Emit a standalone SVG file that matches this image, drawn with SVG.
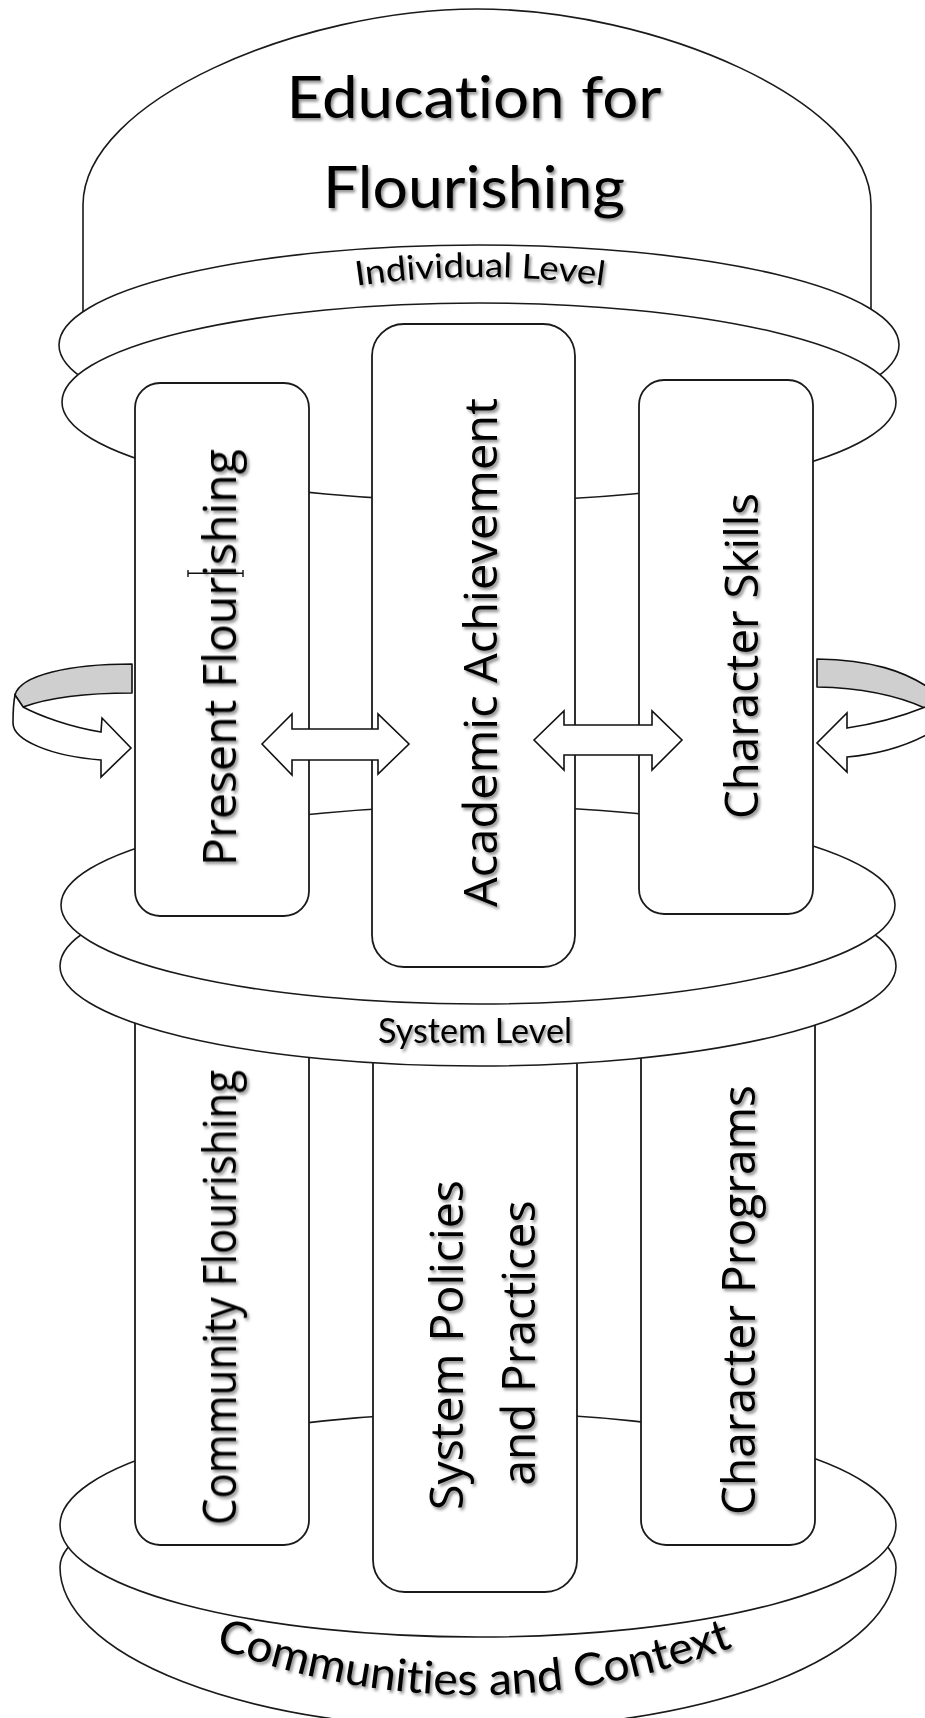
<svg xmlns="http://www.w3.org/2000/svg" width="925" height="1718" viewBox="0 0 925 1718">
<defs>
<style>
.sh{fill:#fff;stroke:#1a1a1a;stroke-width:1.6}
.box{fill:#fff;stroke:#1a1a1a;stroke-width:1.8}
.arr{fill:#fff;stroke:#111;stroke-width:1.6;stroke-linejoin:miter}
.grey{fill:#cfcfcf;stroke:#111;stroke-width:1.6;stroke-linejoin:round}
text{font-variant-ligatures:none}
.cal{font-family:Lato,"Open Sans","Liberation Sans",sans-serif;fill:#000}
.seg{font-family:"Open Sans","Noto Sans","DejaVu Sans",sans-serif;fill:#000;font-size:46px}
</style>
<filter id="ts" x="-10%" y="-20%" width="125%" height="150%">
<feDropShadow dx="2" dy="2.5" stdDeviation="1.6" flood-color="#000" flood-opacity="0.45"/>
</filter>
<path id="ilPath" d="M 342 288 Q 480 266 618 288"/>
<path id="ccPath" d="M 196 1640 Q 474 1750 752 1640"/>
</defs>
<rect width="925" height="1718" fill="#fff"/>

<g id="dome">
<path class="sh" d="M 83 350 L 83 205 C 83 100, 302 9, 477 9 C 652 9, 871 100, 871 205 L 871 350 Z"/>
</g>
<g id="individual-band">
<ellipse class="sh" cx="479" cy="345" rx="420" ry="100"/>
</g>
<g id="individual-disk">
<ellipse class="sh" cx="479" cy="402" rx="417" ry="99"/>
</g>
<g id="base-disk">
<path class="sh" d="M 60 1567 A 418 162 0 0 0 896 1567 A 418 100 0 0 0 60 1567 Z"/>
</g>
<g id="base-top">
<ellipse class="sh" cx="478" cy="1525" rx="418" ry="112"/>
</g>

<g id="community-flourishing">
<rect class="box" x="135" y="930" width="174" height="615" rx="25"/>
</g>
<g id="system-policies">
<rect class="box" x="373" y="930" width="204" height="662" rx="32"/>
</g>
<g id="character-programs">
<rect class="box" x="641" y="930" width="174" height="615" rx="25"/>
</g>

<g id="system-band">
<ellipse class="sh" cx="478" cy="966" rx="418" ry="100"/>
</g>
<g id="system-disk">
<ellipse class="sh" cx="478" cy="905" rx="417" ry="99"/>
</g>

<g id="present-flourishing">
<rect class="box" x="135" y="383" width="174" height="533" rx="25"/>
</g>
<g id="academic-achievement">
<rect class="box" x="372" y="324" width="203" height="643" rx="32"/>
</g>
<g id="character-skills">
<rect class="box" x="639" y="380" width="174" height="534" rx="25"/>
</g>

<g id="connectors">
<path class="arr" d="M 262 744 L 292 714 L 292 729 L 378 729 L 378 714 L 409 744 L 378 774 L 378 760 L 292 760 L 292 775 Z"/>
<path class="arr" d="M 534 740 L 564 711 L 564 725 L 652 725 L 652 711 L 682 740 L 652 770 L 652 755 L 564 755 L 564 770 Z"/>
<path class="grey" d="M 132 664 C 70 664, 20 675, 15 695 L 23 707 C 45 699, 80 693, 132 693 Z"/>
<path class="arr" d="M 15 695 C 13 705, 13 715, 13 723 C 13 740, 50 756, 101 760 L 101 777 L 131 748 L 102 718 L 101 732 C 70 727, 40 716, 23 707 Z"/>
<path class="grey" d="M 817 659 C 870 660, 905 670, 935 692 L 935 713 C 905 697, 865 688, 817 687 Z"/>
<path class="arr" d="M 935 703 C 905 716, 875 724, 847 728 L 847 713 L 817 743 L 847 772 L 847 757 C 880 754, 910 745, 935 730 Z"/>
</g>

<g id="labels" filter="url(#ts)">
<text class="cal" x="474" y="118" font-size="59" text-anchor="middle" textLength="375" lengthAdjust="spacingAndGlyphs">Education for</text>
<text class="cal" x="474" y="208" font-size="59" text-anchor="middle" textLength="302" lengthAdjust="spacingAndGlyphs">Flourishing</text>
<text class="cal" font-size="34"><textPath href="#ilPath" startOffset="50%" text-anchor="middle" textLength="248" lengthAdjust="spacingAndGlyphs">Individual Level</textPath></text>
<text class="cal" x="475" y="1043" font-size="34" text-anchor="middle" textLength="194" lengthAdjust="spacingAndGlyphs">System Level</text>
<text class="cal" font-size="45"><textPath href="#ccPath" startOffset="50%" text-anchor="middle" textLength="530" lengthAdjust="spacingAndGlyphs">Communities and Context</textPath></text>
<text class="seg" transform="translate(236,657.5) rotate(-90)" text-anchor="middle" textLength="417" lengthAdjust="spacingAndGlyphs">Present Flourishing</text>
<text class="seg" transform="translate(497,652.5) rotate(-90)" text-anchor="middle" textLength="509" lengthAdjust="spacingAndGlyphs">Academic Achievement</text>
<text class="seg" transform="translate(758,656) rotate(-90)" text-anchor="middle" textLength="326" lengthAdjust="spacingAndGlyphs">Character Skills</text>
<text class="seg" transform="translate(236,1297.5) rotate(-90)" text-anchor="middle" textLength="455" lengthAdjust="spacingAndGlyphs">Community Flourishing</text>
<text class="seg" transform="translate(463,1345) rotate(-90)" text-anchor="middle" textLength="330" lengthAdjust="spacingAndGlyphs">System Policies</text>
<text class="seg" transform="translate(535,1343) rotate(-90)" text-anchor="middle" textLength="285" lengthAdjust="spacingAndGlyphs">and Practices</text>
<text class="seg" transform="translate(755,1300) rotate(-90)" text-anchor="middle" textLength="430" lengthAdjust="spacingAndGlyphs">Character Programs</text>
</g>
<g id="cursor">
<path d="M 188 573.3 L 243 573.3 M 188 570 L 188 577 M 243 570 L 243 577" stroke="#111" stroke-width="1.4" fill="none"/>
</g>
</svg>
